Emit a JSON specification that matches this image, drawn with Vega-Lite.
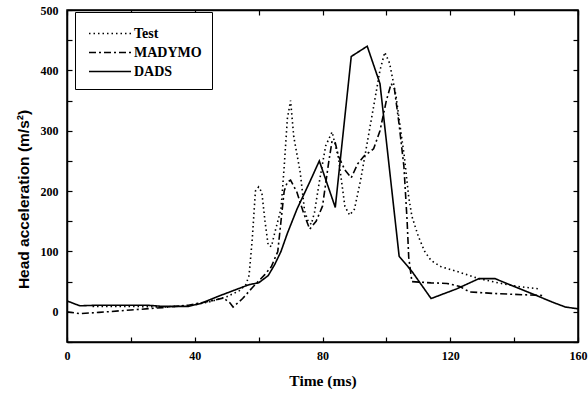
{
  "$schema": "https://vega.github.io/schema/vega-lite/v6.json",
  "width": 511,
  "height": 332,
  "autosize": {"type": "none"},
  "padding": {"left": 67, "top": 10, "right": 10, "bottom": 54},
  "background": "white",
  "config": {
    "font": "Liberation Serif",
    "view": {"stroke": "black", "strokeWidth": 1.5},
    "axis": {
      "grid": false,
      "domainColor": "black",
      "domainWidth": 1.5,
      "tickColor": "black",
      "tickWidth": 1.2,
      "tickSize": -5,
      "labelFont": "Liberation Serif",
      "labelFontWeight": "bold",
      "labelFontSize": 12,
      "labelColor": "black",
      "titleFont": "Liberation Serif",
      "titleFontWeight": "bold",
      "titleFontSize": 15.5,
      "titleColor": "black"
    }
  },
  "data": {
    "values": [
      {"series": "Test", "t": 8, "v": 9},
      {"series": "Test", "t": 20, "v": 9},
      {"series": "Test", "t": 30, "v": 8},
      {"series": "Test", "t": 38, "v": 10},
      {"series": "Test", "t": 45, "v": 17},
      {"series": "Test", "t": 50, "v": 25},
      {"series": "Test", "t": 54, "v": 35},
      {"series": "Test", "t": 56, "v": 45},
      {"series": "Test", "t": 57, "v": 60},
      {"series": "Test", "t": 58, "v": 120},
      {"series": "Test", "t": 59, "v": 200},
      {"series": "Test", "t": 60, "v": 207},
      {"series": "Test", "t": 61, "v": 198},
      {"series": "Test", "t": 62, "v": 150},
      {"series": "Test", "t": 63, "v": 110},
      {"series": "Test", "t": 64, "v": 108},
      {"series": "Test", "t": 65, "v": 130},
      {"series": "Test", "t": 67, "v": 170},
      {"series": "Test", "t": 68, "v": 240},
      {"series": "Test", "t": 69, "v": 320},
      {"series": "Test", "t": 70, "v": 350},
      {"series": "Test", "t": 71, "v": 290},
      {"series": "Test", "t": 73, "v": 232},
      {"series": "Test", "t": 74.4, "v": 167},
      {"series": "Test", "t": 75.5, "v": 150},
      {"series": "Test", "t": 76.5, "v": 145},
      {"series": "Test", "t": 77.5, "v": 165},
      {"series": "Test", "t": 79, "v": 215},
      {"series": "Test", "t": 81, "v": 275},
      {"series": "Test", "t": 83, "v": 298},
      {"series": "Test", "t": 85, "v": 255},
      {"series": "Test", "t": 87, "v": 175},
      {"series": "Test", "t": 88.5, "v": 160},
      {"series": "Test", "t": 90, "v": 170},
      {"series": "Test", "t": 92, "v": 220},
      {"series": "Test", "t": 94, "v": 280},
      {"series": "Test", "t": 96, "v": 340},
      {"series": "Test", "t": 98, "v": 400},
      {"series": "Test", "t": 99.5, "v": 430},
      {"series": "Test", "t": 101, "v": 412},
      {"series": "Test", "t": 103, "v": 358},
      {"series": "Test", "t": 104.5, "v": 300},
      {"series": "Test", "t": 105.6, "v": 258},
      {"series": "Test", "t": 107, "v": 190},
      {"series": "Test", "t": 108, "v": 158},
      {"series": "Test", "t": 110, "v": 125},
      {"series": "Test", "t": 112, "v": 100},
      {"series": "Test", "t": 114, "v": 85},
      {"series": "Test", "t": 117, "v": 75},
      {"series": "Test", "t": 122, "v": 67},
      {"series": "Test", "t": 129, "v": 55},
      {"series": "Test", "t": 135, "v": 48},
      {"series": "Test", "t": 141, "v": 42},
      {"series": "Test", "t": 148, "v": 38},
      {"series": "MADYMO", "t": 0, "v": 0},
      {"series": "MADYMO", "t": 4, "v": -3},
      {"series": "MADYMO", "t": 10, "v": -1},
      {"series": "MADYMO", "t": 20, "v": 3},
      {"series": "MADYMO", "t": 30, "v": 7},
      {"series": "MADYMO", "t": 38, "v": 11},
      {"series": "MADYMO", "t": 45, "v": 18},
      {"series": "MADYMO", "t": 49, "v": 23},
      {"series": "MADYMO", "t": 51, "v": 15},
      {"series": "MADYMO", "t": 52, "v": 8},
      {"series": "MADYMO", "t": 55, "v": 22},
      {"series": "MADYMO", "t": 58, "v": 40},
      {"series": "MADYMO", "t": 62, "v": 62},
      {"series": "MADYMO", "t": 64, "v": 75},
      {"series": "MADYMO", "t": 66, "v": 100},
      {"series": "MADYMO", "t": 67, "v": 150},
      {"series": "MADYMO", "t": 68, "v": 200},
      {"series": "MADYMO", "t": 69, "v": 215},
      {"series": "MADYMO", "t": 70, "v": 218},
      {"series": "MADYMO", "t": 72, "v": 198},
      {"series": "MADYMO", "t": 74, "v": 165},
      {"series": "MADYMO", "t": 76, "v": 137},
      {"series": "MADYMO", "t": 78, "v": 150},
      {"series": "MADYMO", "t": 80, "v": 175},
      {"series": "MADYMO", "t": 82, "v": 250},
      {"series": "MADYMO", "t": 83, "v": 283},
      {"series": "MADYMO", "t": 84, "v": 280},
      {"series": "MADYMO", "t": 85, "v": 258},
      {"series": "MADYMO", "t": 87, "v": 235},
      {"series": "MADYMO", "t": 89, "v": 222},
      {"series": "MADYMO", "t": 91, "v": 245},
      {"series": "MADYMO", "t": 93, "v": 258},
      {"series": "MADYMO", "t": 96, "v": 270},
      {"series": "MADYMO", "t": 98, "v": 300},
      {"series": "MADYMO", "t": 100, "v": 350},
      {"series": "MADYMO", "t": 101.5, "v": 378},
      {"series": "MADYMO", "t": 102.5, "v": 370},
      {"series": "MADYMO", "t": 104, "v": 310},
      {"series": "MADYMO", "t": 105.5, "v": 240},
      {"series": "MADYMO", "t": 106.5, "v": 150},
      {"series": "MADYMO", "t": 107, "v": 90},
      {"series": "MADYMO", "t": 108, "v": 50},
      {"series": "MADYMO", "t": 114, "v": 48},
      {"series": "MADYMO", "t": 119, "v": 47},
      {"series": "MADYMO", "t": 123, "v": 42},
      {"series": "MADYMO", "t": 126, "v": 33},
      {"series": "MADYMO", "t": 135, "v": 30},
      {"series": "MADYMO", "t": 149, "v": 27},
      {"series": "DADS", "t": 0, "v": 18},
      {"series": "DADS", "t": 4, "v": 10},
      {"series": "DADS", "t": 10, "v": 11},
      {"series": "DADS", "t": 20, "v": 11},
      {"series": "DADS", "t": 25, "v": 11},
      {"series": "DADS", "t": 30, "v": 9},
      {"series": "DADS", "t": 38, "v": 9},
      {"series": "DADS", "t": 42, "v": 14},
      {"series": "DADS", "t": 47, "v": 25},
      {"series": "DADS", "t": 52, "v": 35},
      {"series": "DADS", "t": 57, "v": 45},
      {"series": "DADS", "t": 60, "v": 48},
      {"series": "DADS", "t": 63, "v": 60},
      {"series": "DADS", "t": 65, "v": 78},
      {"series": "DADS", "t": 67, "v": 100},
      {"series": "DADS", "t": 69, "v": 130},
      {"series": "DADS", "t": 72, "v": 170},
      {"series": "DADS", "t": 76, "v": 215},
      {"series": "DADS", "t": 79, "v": 250},
      {"series": "DADS", "t": 84, "v": 173},
      {"series": "DADS", "t": 89, "v": 423},
      {"series": "DADS", "t": 94, "v": 440},
      {"series": "DADS", "t": 98, "v": 378},
      {"series": "DADS", "t": 104, "v": 92},
      {"series": "DADS", "t": 108, "v": 67},
      {"series": "DADS", "t": 114, "v": 22},
      {"series": "DADS", "t": 122, "v": 38},
      {"series": "DADS", "t": 129, "v": 55},
      {"series": "DADS", "t": 134, "v": 55},
      {"series": "DADS", "t": 140, "v": 42},
      {"series": "DADS", "t": 147, "v": 27},
      {"series": "DADS", "t": 152, "v": 16},
      {"series": "DADS", "t": 156, "v": 8},
      {"series": "DADS", "t": 160, "v": 5}
    ]
  },
  "layer": [
    {
      "mark": {"type": "line", "color": "black", "clip": true},
      "encoding": {
        "x": {
          "field": "t", "type": "quantitative",
          "scale": {"domain": [0, 160], "nice": false, "zero": false},
          "axis": {
            "orient": "bottom",
            "values": [0, 20, 40, 60, 80, 100, 120, 140, 160],
            "labelExpr": "datum.value % 40 == 0 ? datum.label : ''",
            "labelPadding": 13,
            "title": "Time (ms)",
            "titlePadding": 12,
            "labelFlush": false
          }
        },
        "y": {
          "field": "v", "type": "quantitative",
          "scale": {"domain": [-50, 500], "nice": false, "zero": false},
          "axis": {
            "orient": "left",
            "values": [-50, 0, 50, 100, 150, 200, 250, 300, 350, 400, 450, 500],
            "labelExpr": "datum.value % 100 == 0 ? datum.label : ''",
            "labelPadding": 14,
            "title": "Head acceleration (m/s²)",
            "titleFont": "Liberation Sans",
            "titleFontSize": 15.5,
            "titleY": 189,
            "titlePadding": 9,
            "labelFlush": false
          }
        },
        "strokeDash": {
          "field": "series", "type": "nominal",
          "scale": {"domain": ["Test", "MADYMO", "DADS"], "range": [[1.5, 3], [7, 3, 2, 3], [1, 0]]},
          "legend": {
            "title": null,
            "orient": "none",
            "legendX": 8,
            "legendY": 2,
            "strokeColor": "black",
            "fillColor": "white",
            "padding": 10,
            "symbolType": "M-2,0H2",
            "symbolSize": 441,
            "symbolOffset": 13.5,
            "labelOffset": 12.5,
            "symbolStrokeColor": "black",
            "symbolStrokeWidth": 1.6,
            "labelFont": "Liberation Serif",
            "labelFontWeight": "bold",
            "labelFontSize": 14,
            "labelColor": "black",
            "rowPadding": 0
          }
        },
        "strokeWidth": {
          "field": "series", "type": "nominal",
          "scale": {"domain": ["Test", "MADYMO", "DADS"], "range": [1.6, 1.6, 2]},
          "legend": null
        }
      }
    },
    {
      "mark": {"type": "point", "opacity": 0},
      "encoding": {
        "x": {
          "field": "t", "type": "quantitative",
          "scale": {"domain": [0, 160], "nice": false, "zero": false},
          "axis": {"orient": "top", "values": [0, 20, 40, 60, 80, 100, 120, 140, 160], "labels": false, "title": null}
        },
        "y": {
          "field": "v", "type": "quantitative",
          "scale": {"domain": [-50, 500], "nice": false, "zero": false},
          "axis": {"orient": "right", "values": [-50, 0, 50, 100, 150, 200, 250, 300, 350, 400, 450, 500], "labels": false, "title": null}
        }
      }
    }
  ],
  "resolve": {"axis": {"x": "independent", "y": "independent"}}
}
